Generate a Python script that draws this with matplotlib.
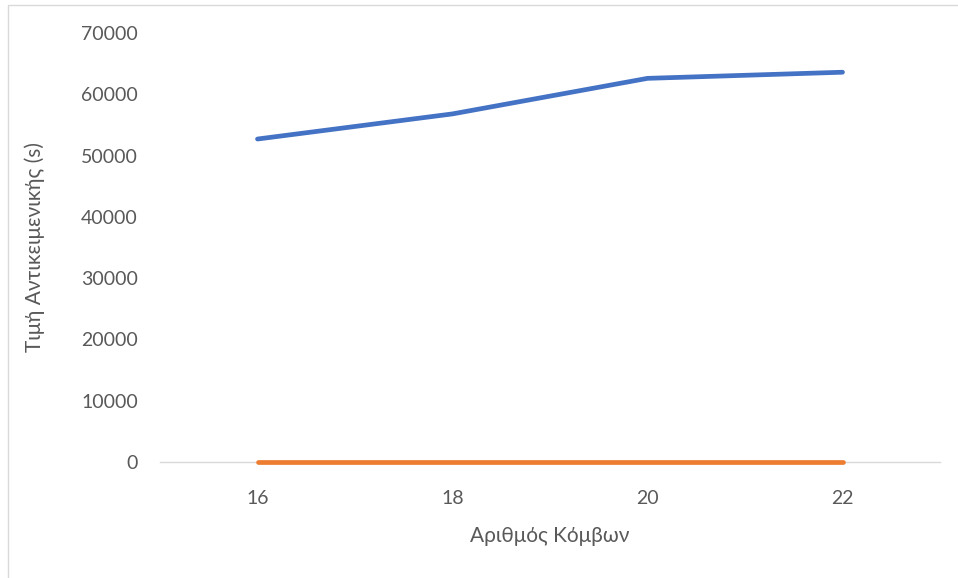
import matplotlib
matplotlib.use("Agg")
import matplotlib.pyplot as plt
from matplotlib.patches import Rectangle

nodes = [16, 18, 20, 22]
series_blue = [52700, 56800, 62600, 63600]
series_orange = [0, 0, 0, 0]
yticks = [0, 10000, 20000, 30000, 40000, 50000, 60000, 70000]
xticks = [16, 18, 20, 22]

plt.rcParams['font.family'] = ['Lato', 'DejaVu Sans']

W, H = 958, 578
fig = plt.figure(figsize=(W/100, H/100), dpi=100)
ax = fig.add_axes([160/W, 1-462/H, (940-160)/W, (462-33)/H])

ax.plot(nodes, series_blue, color='#4472C4', lw=3.4, solid_capstyle='round', solid_joinstyle='round', zorder=3, clip_on=False)
ax.plot(nodes, series_orange, color='#ED7D31', lw=3.4, solid_capstyle='round', zorder=3, clip_on=False)

ax.set_xlim(15, 23)
ax.set_ylim(0, 70000)
ax.set_yticks(yticks)
ax.set_xticks(xticks)
ax.set_yticklabels([str(v) for v in yticks])
ax.set_xticklabels([str(v) for v in xticks])
for s in ['top', 'right', 'left']:
    ax.spines[s].set_visible(False)
ax.spines['bottom'].set_color('#d9d9d9')
ax.spines['bottom'].set_linewidth(1.0)
ax.tick_params(axis='both', length=0, labelsize=14, labelcolor='#595959')
ax.tick_params(axis='y', pad=16)
ax.tick_params(axis='x', pad=20)

ax.set_xlabel('Αριθμός Κόμβων', fontsize=15, color='#595959', labelpad=14)
ax.set_ylabel('Τιμή Αντικειμενικής (s)', fontsize=15, color='#595959', labelpad=26)

fig.patches.append(Rectangle((8/W, -0.01), 1.0, 1 - 5/H + 0.01, transform=fig.transFigure,
                             fill=False, edgecolor='#d9d9d9', lw=1.0))

fig.savefig('out.png', dpi=100)
